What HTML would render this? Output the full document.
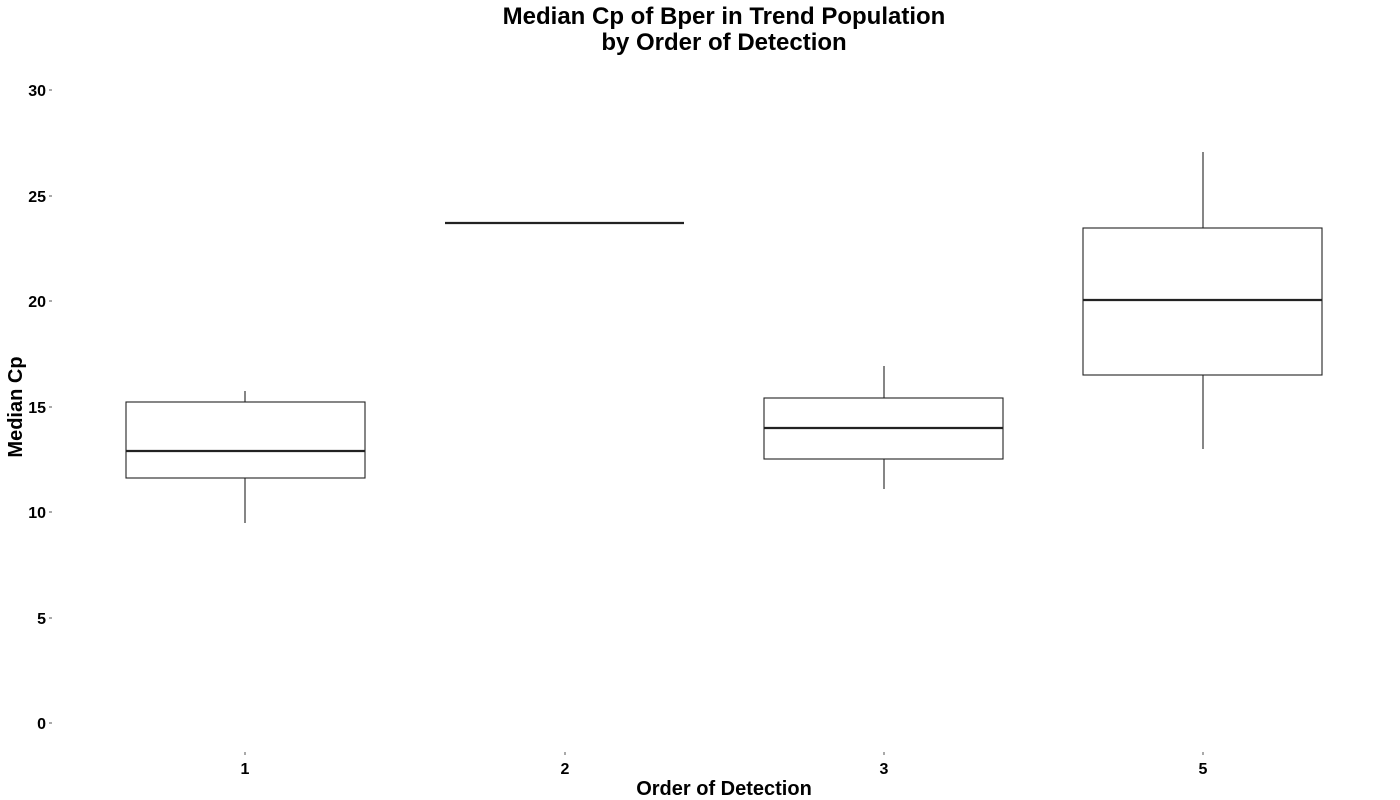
<!DOCTYPE html>
<html><head><meta charset="utf-8"><style>
html,body{margin:0;padding:0;background:#fff;}
svg{display:block;font-family:"Liberation Sans",Arial,sans-serif;}
</style></head><body>
<svg width="1400" height="800" viewBox="0 0 1400 800" xmlns="http://www.w3.org/2000/svg">
<rect width="1400" height="800" fill="#fff"/>
<text x="724" y="24" font-size="24" font-weight="bold" text-anchor="middle">Median Cp of Bper in Trend Population</text>
<text x="724" y="50" font-size="24" font-weight="bold" text-anchor="middle">by Order of Detection</text>
<g font-size="16" font-weight="bold" text-anchor="end">
<text x="46" y="96">30</text>
<text x="46" y="202">25</text>
<text x="46" y="307">20</text>
<text x="46" y="413">15</text>
<text x="46" y="518">10</text>
<text x="46" y="624">5</text>
<text x="46" y="729">0</text>
</g>
<g stroke="#555" stroke-width="1">
<line x1="49" y1="90" x2="52" y2="90"/><line x1="49" y1="196" x2="52" y2="196"/>
<line x1="49" y1="301" x2="52" y2="301"/><line x1="49" y1="407" x2="52" y2="407"/>
<line x1="49" y1="512" x2="52" y2="512"/><line x1="49" y1="618" x2="52" y2="618"/>
<line x1="49" y1="723" x2="52" y2="723"/>
<line x1="245" y1="752" x2="245" y2="755"/><line x1="565" y1="752" x2="565" y2="755"/>
<line x1="884" y1="752" x2="884" y2="755"/><line x1="1203" y1="752" x2="1203" y2="755"/>
</g>
<g font-size="16" font-weight="bold" text-anchor="middle">
<text x="245" y="774">1</text><text x="565" y="774">2</text>
<text x="884" y="774">3</text><text x="1203" y="774">5</text>
</g>
<text x="724" y="795" font-size="20" font-weight="bold" text-anchor="middle">Order of Detection</text>
<text transform="translate(22,407) rotate(-90)" font-size="20" font-weight="bold" text-anchor="middle">Median Cp</text>
<g stroke="#222" fill="none" stroke-width="1.1">
<line x1="245" y1="391" x2="245" y2="402"/><line x1="245" y1="478" x2="245" y2="523"/>
<rect x="126" y="402" width="239" height="76"/>
<line x1="126" y1="451" x2="365" y2="451" stroke-width="2.2"/>
<line x1="445" y1="223" x2="684" y2="223" stroke-width="2.2"/>
<line x1="884" y1="366" x2="884" y2="398"/><line x1="884" y1="459" x2="884" y2="489"/>
<rect x="764" y="398" width="239" height="61"/>
<line x1="764" y1="428" x2="1003" y2="428" stroke-width="2.2"/>
<line x1="1203" y1="152" x2="1203" y2="228"/><line x1="1203" y1="375" x2="1203" y2="449"/>
<rect x="1083" y="228" width="239" height="147"/>
<line x1="1083" y1="300" x2="1322" y2="300" stroke-width="2.2"/>
</g>
</svg>
</body></html>
